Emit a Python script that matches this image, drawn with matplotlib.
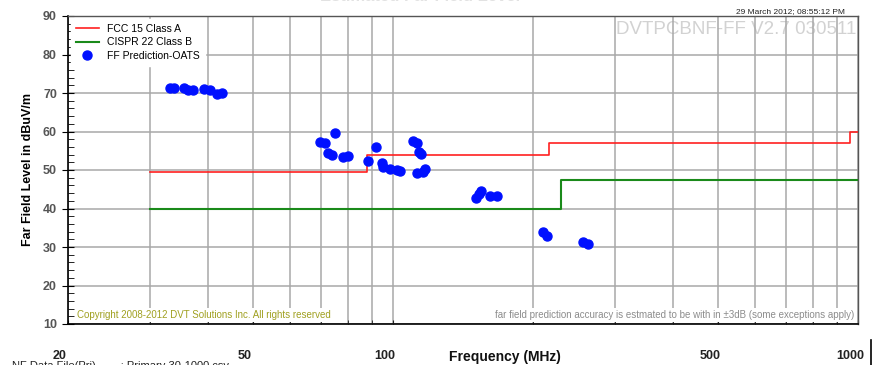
import numpy as np
import matplotlib
matplotlib.use("Agg")
import matplotlib.pyplot as plt
import matplotlib.ticker as mticker
import matplotlib.transforms as mtransforms

plt.rcParams["font.family"] = ["Liberation Sans", "DejaVu Sans"]

# limit lines (step, value holds until next frequency)
fcc_freq = [30, 88, 88, 216, 216, 960, 960, 1000]
fcc_level = [49.5, 49.5, 54.0, 54.0, 56.9, 56.9, 60.0, 60.0]
cispr_freq = [30, 230, 230, 1000]
cispr_level = [40.0, 40.0, 47.3, 47.3]

# far field prediction points
ff_freq = [33.1, 33.8, 35.5, 36.2, 37.1, 39.2, 40.4, 41.8, 42.9,
           69.7, 71.4, 75.0, 72.5, 73.9, 78.1, 80.0, 88.3, 91.9, 94.7,
           95.1, 98.5, 102.0, 103.5, 110.4, 112.6, 113.7, 114.9, 112.6,
           116.0, 117.2,
           150.8, 153.0, 154.6, 161.6, 167.3, 210.2, 214.4, 256.2, 262.6]
ff_level = [71.3, 71.3, 71.3, 70.8, 70.8, 71.1, 70.8, 69.7, 70.0,
            57.3, 57.0, 59.6, 54.4, 53.9, 53.4, 53.6, 52.3, 56.0, 51.8,
            50.8, 50.3, 50.0, 49.7, 57.5, 57.0, 54.7, 54.2, 49.2,
            49.5, 50.3,
            42.7, 43.8, 44.5, 43.2, 43.2, 33.9, 32.9, 31.3, 30.8]

x_labels = [20, 50, 100, 500, 1000]
grid_minor = [30, 40, 60, 70, 80, 90, 200, 300, 400, 600, 700, 800, 900]

fig = plt.figure(figsize=(8.74, 3.65), dpi=100)
ax = fig.add_axes([68 / 874, 1 - 324 / 365, 790 / 874, 308 / 365])

ax.plot(fcc_freq, fcc_level, color="#ff2020", lw=1.2, label="FCC 15 Class A", zorder=3)
ax.plot(cispr_freq, cispr_level, color="#1a8a1a", lw=1.5, label="CISPR 22 Class B", zorder=3)
ax.plot(ff_freq, ff_level, "o", color="#0010ff", ms=6.5, mec="#0010ff",
        lw=0, label="FF Prediction-OATS", zorder=4)

ax.set_xscale("log")
ax.set_xlim(20, 1000)
ax.set_ylim(10, 90)

ax.xaxis.set_major_locator(mticker.FixedLocator(x_labels))
ax.xaxis.set_major_formatter(mticker.FixedFormatter([str(v) for v in x_labels]))
ax.xaxis.set_minor_locator(mticker.FixedLocator(grid_minor))
ax.xaxis.set_minor_formatter(mticker.NullFormatter())
ax.tick_params(axis="x", which="both", direction="in", length=3, pad=18.5,
               labelsize=9, colors="#222222")
for lab in ax.get_xticklabels():
    lab.set_fontweight("bold")
    lab.set_transform(lab.get_transform() +
                      mtransforms.ScaledTranslation(-8 / 100, 0, fig.dpi_scale_trans))

ax.yaxis.set_major_locator(mticker.MultipleLocator(10))
ax.yaxis.set_minor_locator(mticker.MultipleLocator(2))
ax.tick_params(axis="y", which="major", direction="inout", length=8, labelsize=9,
               labelcolor="#555555", pad=4)
ax.tick_params(axis="y", which="minor", direction="in", length=4)
for lab in ax.get_yticklabels():
    lab.set_fontweight("bold")

ax.grid(True, axis="x", which="both", color="#a8a8a8", lw=1.1)
ax.grid(True, axis="y", which="major", color="#a8a8a8", lw=1.1)
ax.set_axisbelow(True)
for s in ["left", "bottom"]:
    ax.spines[s].set_color("black")
    ax.spines[s].set_linewidth(1.2)
for s in ["top", "right"]:
    ax.spines[s].set_color("#555555")
    ax.spines[s].set_linewidth(1.0)

ax.set_ylabel("Far Field Level in dBuV/m", fontsize=9, fontweight="bold", labelpad=6)

leg = ax.legend(loc="upper left", frameon=True, fontsize=7.5, borderaxespad=0.3,
                handlelength=2.2, labelspacing=0.35, borderpad=0.45)
leg.get_frame().set_edgecolor("white")
leg.get_frame().set_facecolor("white")
leg.get_frame().set_alpha(1)
leg.get_frame().set_boxstyle("square", pad=0.0)

ax.text(0.998, 0.985, "DVTPCBNF-FF V2.7 030511", transform=ax.transAxes,
        ha="right", va="top", fontsize=13.5, color="#d2d2d2", zorder=0.2)
box = dict(facecolor="white", edgecolor="none", pad=1.5)
ax.text(0.012, 0.014, "Copyright 2008-2012 DVT Solutions Inc. All rights reserved",
        transform=ax.transAxes, ha="left", va="bottom", fontsize=7, color="#a0a020",
        bbox=box)
ax.text(0.995, 0.014,
        "far field prediction accuracy is estmated to be with in \u00b13dB (some exceptions apply)",
        transform=ax.transAxes, ha="right", va="bottom", fontsize=7, color="#8c8c8c",
        bbox=box)

fig.text(845 / 874, 1 - 12 / 365, "29 March 2012; 08:55:12 PM", ha="right", va="center",
         fontsize=6, color="#222222")
fig.text(420 / 874, 1 + 3.5 / 365, "Estimated Far Field Level", ha="center", va="center",
         fontsize=12, fontweight="bold", color="#e2e2e2")
fig.text(505 / 874, 1 - 357 / 365, "Frequency (MHz)", ha="center", va="center",
         fontsize=10, fontweight="bold", color="#111111")
fig.text(12 / 874, 1 - 366 / 365, "NF Data File(Pri)        : Primary 30-1000.csv",
         ha="left", va="center", fontsize=8, color="#222222")
fig.add_artist(plt.Line2D([871 / 874, 871 / 874], [0, 1 - 340 / 365],
                          transform=fig.transFigure, color="black", lw=1.2))

fig.savefig("out.png", dpi=100, facecolor="white")
